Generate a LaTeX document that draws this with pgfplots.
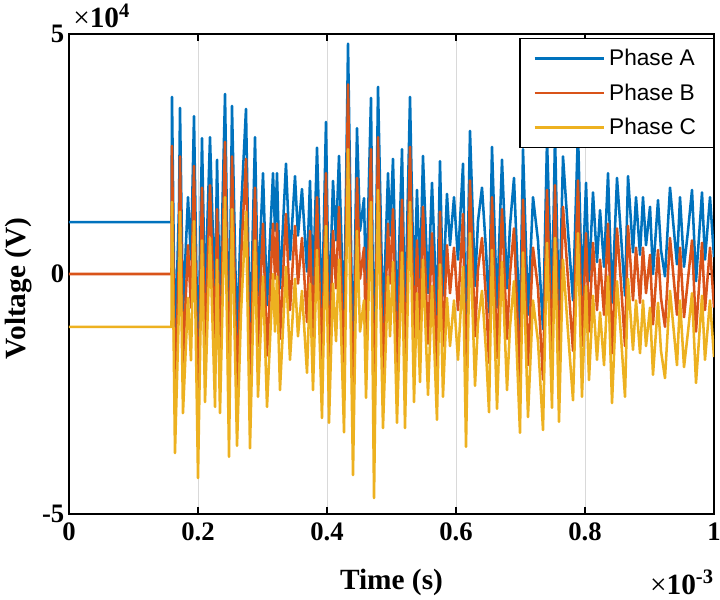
\documentclass[border=0pt]{standalone}
\usepackage{fontspec}
\setmainfont{Liberation Serif}
\newfontfamily\legfont{Liberation Sans}
\usepackage{pgfplots}
\usepackage{pgfplotstable}
\pgfplotsset{compat=1.18}

\definecolor{phA}{rgb}{0,0.447,0.741}
\definecolor{phB}{rgb}{0.85,0.325,0.098}
\definecolor{phC}{rgb}{0.929,0.694,0.125}

% time in ms (x 1e-3 s), voltages in units of 1e4 V
\pgfplotstableread{
t      A      B      C
0.0000 1.08   0.00  -1.10
0.1589 1.08   0.00  -1.10
0.1597 3.69   2.67   1.50
0.1643 -1.65 -2.70  -3.73
0.1705 1.40   0.40  -0.70
0.1721 3.46   2.45   1.30
0.1767 -0.80 -1.85  -2.90
0.1845 1.60   0.60  -0.50
0.1891 0.30  -0.70  -1.80
0.1938 3.29   2.25   1.10
0.2000 -2.10 -3.20  -4.25
0.2062 2.83   1.80   0.70
0.2109 -0.55 -1.60  -2.67
0.2186 2.85   1.85   0.75
0.2264 -0.65 -1.70  -2.77
0.2295 2.38   1.35   0.30
0.2341 -0.80 -1.85  -2.90
0.2419 3.75   2.75   1.60
0.2481 -1.70 -2.75  -3.81
0.2527 3.50   2.45   1.35
0.2605 -1.45 -2.50  -3.58
0.2667 1.30   0.30  -0.80
0.2744 3.44   2.40   1.30
0.2806 -1.50 -2.55  -3.63
0.2884 2.85   1.80   0.70
0.2930 -0.45 -1.50  -2.56
0.3008 2.10   1.05  -0.05
0.3070 -0.65 -1.70  -2.77
0.3163 2.10   1.05   0.00
0.3194 0.90  -0.10  -1.20
0.3225 2.10   1.05  -0.05
0.3271 -0.30 -1.35  -2.42
0.3364 2.30   1.25   0.15
0.3426 0.30  -0.75  -1.79
0.3504 2.04   1.00  -0.10
0.3550 0.80  -0.20  -1.30
0.3612 1.77   0.75  -0.35
0.3690 0.05  -1.00  -2.06
0.3736 1.94   0.90  -0.20
0.3783 -0.30 -1.35  -2.42
0.3845 2.63   1.60   0.50
0.3922 -0.90 -1.95  -3.00
0.3984 3.17   2.10   1.00
0.4031 -1.00 -2.05  -3.10
0.4093 1.94   0.90  -0.20
0.4140 0.70  -0.30  -1.40
0.4186 2.46   1.40   0.30
0.4264 -1.20 -2.25  -3.30
0.4326 4.80   3.95   2.60
0.4403 -2.10 -3.15  -4.19
0.4465 3.04   2.00   0.90
0.4512 0.90  -0.10  -1.20
0.4574 1.58   0.55  -0.55
0.4605 -0.50 -1.55  -2.58
0.4682 3.67   2.60   1.50
0.4729 -2.55 -3.60  -4.67
0.4791 3.90   2.85   1.75
0.4868 -1.10 -2.15  -3.21
0.4946 2.10   1.05  -0.05
0.4977 0.80  -0.20  -1.30
0.5023 2.40   1.35   0.25
0.5085 -1.00 -2.05  -3.10
0.5163 2.60   1.55   0.45
0.5209 -1.10 -2.15  -3.21
0.5287 3.69   2.65   1.50
0.5349 -0.55 -1.60  -2.67
0.5395 1.75   0.70  -0.40
0.5442 -0.15 -1.20  -2.25
0.5488 2.46   1.40   0.30
0.5566 -0.40 -1.45  -2.52
0.5628 1.90   0.85  -0.25
0.5705 -0.95 -2.00  -3.04
0.5752 2.35   1.30   0.20
0.5798 -0.45 -1.50  -2.56
0.5860 1.67   0.60  -0.50
0.5907 0.60  -0.40  -1.50
0.5969 1.60   0.55  -0.55
0.6031 0.30  -0.75  -1.79
0.6109 2.30   1.25   0.15
0.6155 -1.50 -2.55  -3.60
0.6217 2.98   1.95   0.85
0.6295 -0.25 -1.30  -2.33
0.6341 1.10   0.10  -1.00
0.6403 1.80   0.75  -0.35
0.6465 0.50  -0.50  -1.60
0.6512 -0.80 -1.85  -2.88
0.6558 2.65   1.60   0.50
0.6636 -0.70 -1.75  -2.81
0.6713 2.38   1.35   0.25
0.6791 -0.30 -1.35  -2.42
0.6837 1.00   0.00  -1.10
0.6899 2.00   0.95  -0.15
0.6992 -1.20 -2.25  -3.31
0.7039 2.60   1.55   0.45
0.7116 -0.85 -1.90  -2.98
0.7194 1.60   0.55  -0.55
0.7271 0.70  -0.30  -1.40
0.7349 -1.15 -2.20  -3.25
0.7411 2.80   1.75   0.65
0.7488 -0.70 -1.75  -2.79
0.7535 2.90   1.85   0.75
0.7597 -1.00 -2.05  -3.08
0.7659 2.45   1.40   0.30
0.7736 0.90  -0.10  -1.20
0.7814 -0.55 -1.60  -2.63
0.7891 3.00   1.95   0.85
0.7953 -0.45 -1.50  -2.56
0.8016 1.90   0.85  -0.25
0.8062 -0.15 -1.20  -2.21
0.8124 1.70   0.65  -0.45
0.8186 0.25  -0.75  -1.79
0.8233 1.33   0.30  -0.80
0.8295 0.15  -0.85  -1.90
0.8357 2.10   1.05  -0.05
0.8419 -0.60 -1.65  -2.69
0.8496 2.00   0.95  -0.15
0.8558 0.80  -0.20  -1.30
0.8620 -0.45 -1.50  -2.56
0.8667 2.04   1.00  -0.10
0.8744 0.45  -0.55  -1.58
0.8791 1.60   0.55  -0.55
0.8853 0.40  -0.60  -1.65
0.8899 1.60   0.55  -0.55
0.8946 0.60  -0.40  -1.50
0.9008 1.40   0.40  -0.70
0.9054 0.00  -1.05  -2.10
0.9132 1.54   0.50  -0.60
0.9178 0.50  -0.50  -1.60
0.9240 -0.05 -1.10  -2.17
0.9318 1.80   0.75  -0.35
0.9426 0.20  -0.85  -1.90
0.9473 1.60   0.55  -0.55
0.9535 0.15  -0.90  -1.94
0.9597 0.90  -0.10  -1.20
0.9659 1.75   0.70  -0.40
0.9721 -0.15 -1.20  -2.27
0.9814 1.70   0.65  -0.45
0.9860 0.30  -0.75  -1.79
0.9938 1.60   0.55  -0.55
1.0000 0.35  -0.70  -1.73
}\phases

\begin{document}
\begin{tikzpicture}
\begin{axis}[
  scale only axis,
  width=483.75pt, height=360pt,
  xmin=0, xmax=1, ymin=-5, ymax=5,
  xtick={0,0.2,0.4,0.6,0.8,1},
  xticklabels={0,0.2,0.4,0.6,0.8,1},
  ytick={-5,0,5},
  yticklabels={-5,0,5},
  tick align=inside,
  major tick length=5pt,
  tick style={black, line width=0.8pt},
  axis line style={black, line width=0.9pt},
  grid=major,
  major grid style={gray!30, line width=0.6pt},
  ticklabel style={font=\bfseries\fontsize{20}{20}\selectfont},
  xticklabel style={yshift=-3pt},
  xlabel={\textbf{Time (s)}},
  ylabel={\textbf{Voltage (V)}},
  label style={font=\bfseries\fontsize{22}{22}\selectfont},
  xlabel style={at={(axis description cs:0.5,-0.158)}, anchor=base},
  ylabel style={at={(axis description cs:-0.068,0.47)}, anchor=base},
  legend style={at={(1,1)}, anchor=north east, yshift=-3pt,
    draw=black, line width=0.9pt, fill=white,
    font=\legfont\fontsize{17}{17}\selectfont,
    inner xsep=10pt, inner ysep=6pt, row sep=8pt,
    nodes={inner xsep=3pt}},
  legend cell align=left,
  legend image code/.code={\draw[#1, line width=1.9pt] (0pt,0pt) -- (52pt,0pt);},
  every axis plot/.append style={line width=1.9pt, line join=round},
]
\addplot[phA] table[x=t, y=A] {\phases};
\addplot[phB] table[x=t, y=B] {\phases};
\addplot[phC] table[x=t, y=C] {\phases};
\legend{Phase A, Phase B, Phase C}
\end{axis}
% exponent labels of the two axes
\node[anchor=base west, inner sep=0pt, font=\fontsize{22}{22}\selectfont]
  at ([xshift=3pt, yshift=4.5pt]current axis.north west) {×\textbf{10}\textsuperscript{\textbf{4}}};
\node[anchor=base east, inner sep=0pt, font=\fontsize{22}{22}\selectfont]
  at ([yshift=-60pt]current axis.south east) {×\textbf{10}\textsuperscript{\textbf{-3}}};
\pgfresetboundingbox
\path (current axis.south west) ++(-51.75pt,-63.75pt) rectangle ++(540pt,449.25pt);
\end{tikzpicture}
\end{document}
